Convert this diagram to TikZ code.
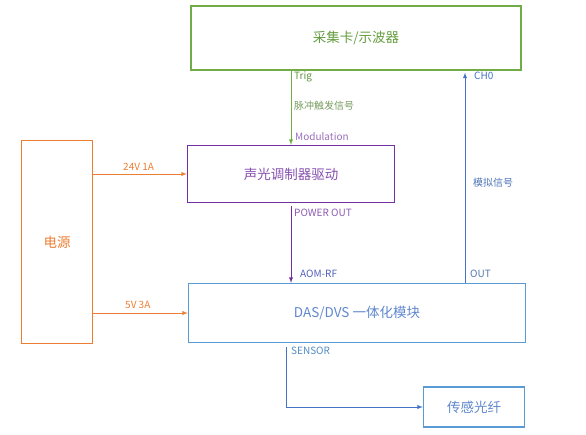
\documentclass[tikz,border=0pt]{standalone}
\usepackage{fontspec}
\setmainfont{Noto Sans CJK SC}
\usepackage{xcolor}
\usepackage{tikz}
\usetikzlibrary{shapes, arrows, positioning, calc}

\definecolor{verde}{RGB}{112,173,71}
\definecolor{viola}{RGB}{112,48,160}
\definecolor{arancio}{RGB}{237,125,49}
\definecolor{azzurro}{RGB}{91,155,213}
\definecolor{blu}{RGB}{68,114,196}

\tikzset{
    blocco/.style={draw, rectangle, line width=1.3pt, font=\fontsize{13.5}{15}\selectfont},
    etichetta/.style={anchor=west, inner sep=0pt, font=\fontsize{10}{12}\selectfont},
    freccia/.style={->, >=latex, line width=0.9pt}
}

\begin{document}
\begin{tikzpicture}[x=1pt, y=-1pt]
                    \useasboundingbox (0,0) rectangle (586,434);

                    \node[blocco, draw=verde, text=verde!90!black, minimum width=330pt, minimum height=64pt] (Acquisizione) at (356,38) {采集卡/示波器};
                    \node[blocco, draw=viola, text=viola!85!white, minimum width=207pt, minimum height=57pt] (Pilota) at (291,174) {声光调制器驱动};
                    \node[blocco, draw=arancio, text=arancio, minimum width=71pt, minimum height=203pt] (Alimentatore) at (57,242) {电源};
                    \node[blocco, draw=azzurro, text=blu!85!white, minimum width=337pt, minimum height=59pt] (Modulo) at (357,313) {DAS/DVS 一体化模块};
                    \node[blocco, draw=azzurro, text=blu!85!white, minimum width=101pt, minimum height=40pt] (Fibra) at (474,407) {传感光纤};

                    \coordinate (Uscita) at (465,0);
                    \coordinate (Sensore) at (286,0);

                    \draw[freccia, verde] (Acquisizione.south -| Pilota.north) to (Pilota.north);
                    \draw[freccia, viola, shorten <=3pt] (Pilota.south) to (Modulo.north -| Pilota.south);
                    \draw[freccia, blu] (Modulo.north -| Uscita) to ([yshift=-2pt]Acquisizione.south -| Uscita);
                    \draw[freccia, blu, shorten <=4pt] (Modulo.south -| Sensore) |- (Fibra.west);
                    \draw[freccia, arancio] (Alimentatore.east |- Pilota.west) to (Pilota.west);
                    \draw[freccia, arancio] (Alimentatore.east |- Modulo.west) to (Modulo.west);

                    \node[etichetta, text=verde!85!black] (Trig) at (294,77) {Trig};
                    \node[etichetta, text=verde!60!gray] (Impulso) at (294,106) {脉冲触发信号};
                    \node[etichetta, text=viola!70!white] (Modulazione) at (295,137) {Modulation};
                    \node[etichetta, text=viola!80!white] (Potenza) at (294,213) {POWER OUT};
                    \node[etichetta, text=blu!70!viola] (Radio) at (300,274) {AOM-RF};
                    \node[etichetta, text=blu!70!gray] (Out) at (470,274) {OUT};
                    \node[etichetta, text=blu] (Canale) at (474,76) {CH0};
                    \node[etichetta, text=blu!80!gray] (Analogico) at (473,183) {模拟信号};
                    \node[etichetta, text=azzurro!90!black] (Sens) at (291,351) {SENSOR};
                    \node[etichetta, text=arancio] (Volt24) at (123,167) {24V 1A};
                    \node[etichetta, text=arancio] (Volt5) at (125,305) {5V 3A};
                \end{tikzpicture}
\end{document}
